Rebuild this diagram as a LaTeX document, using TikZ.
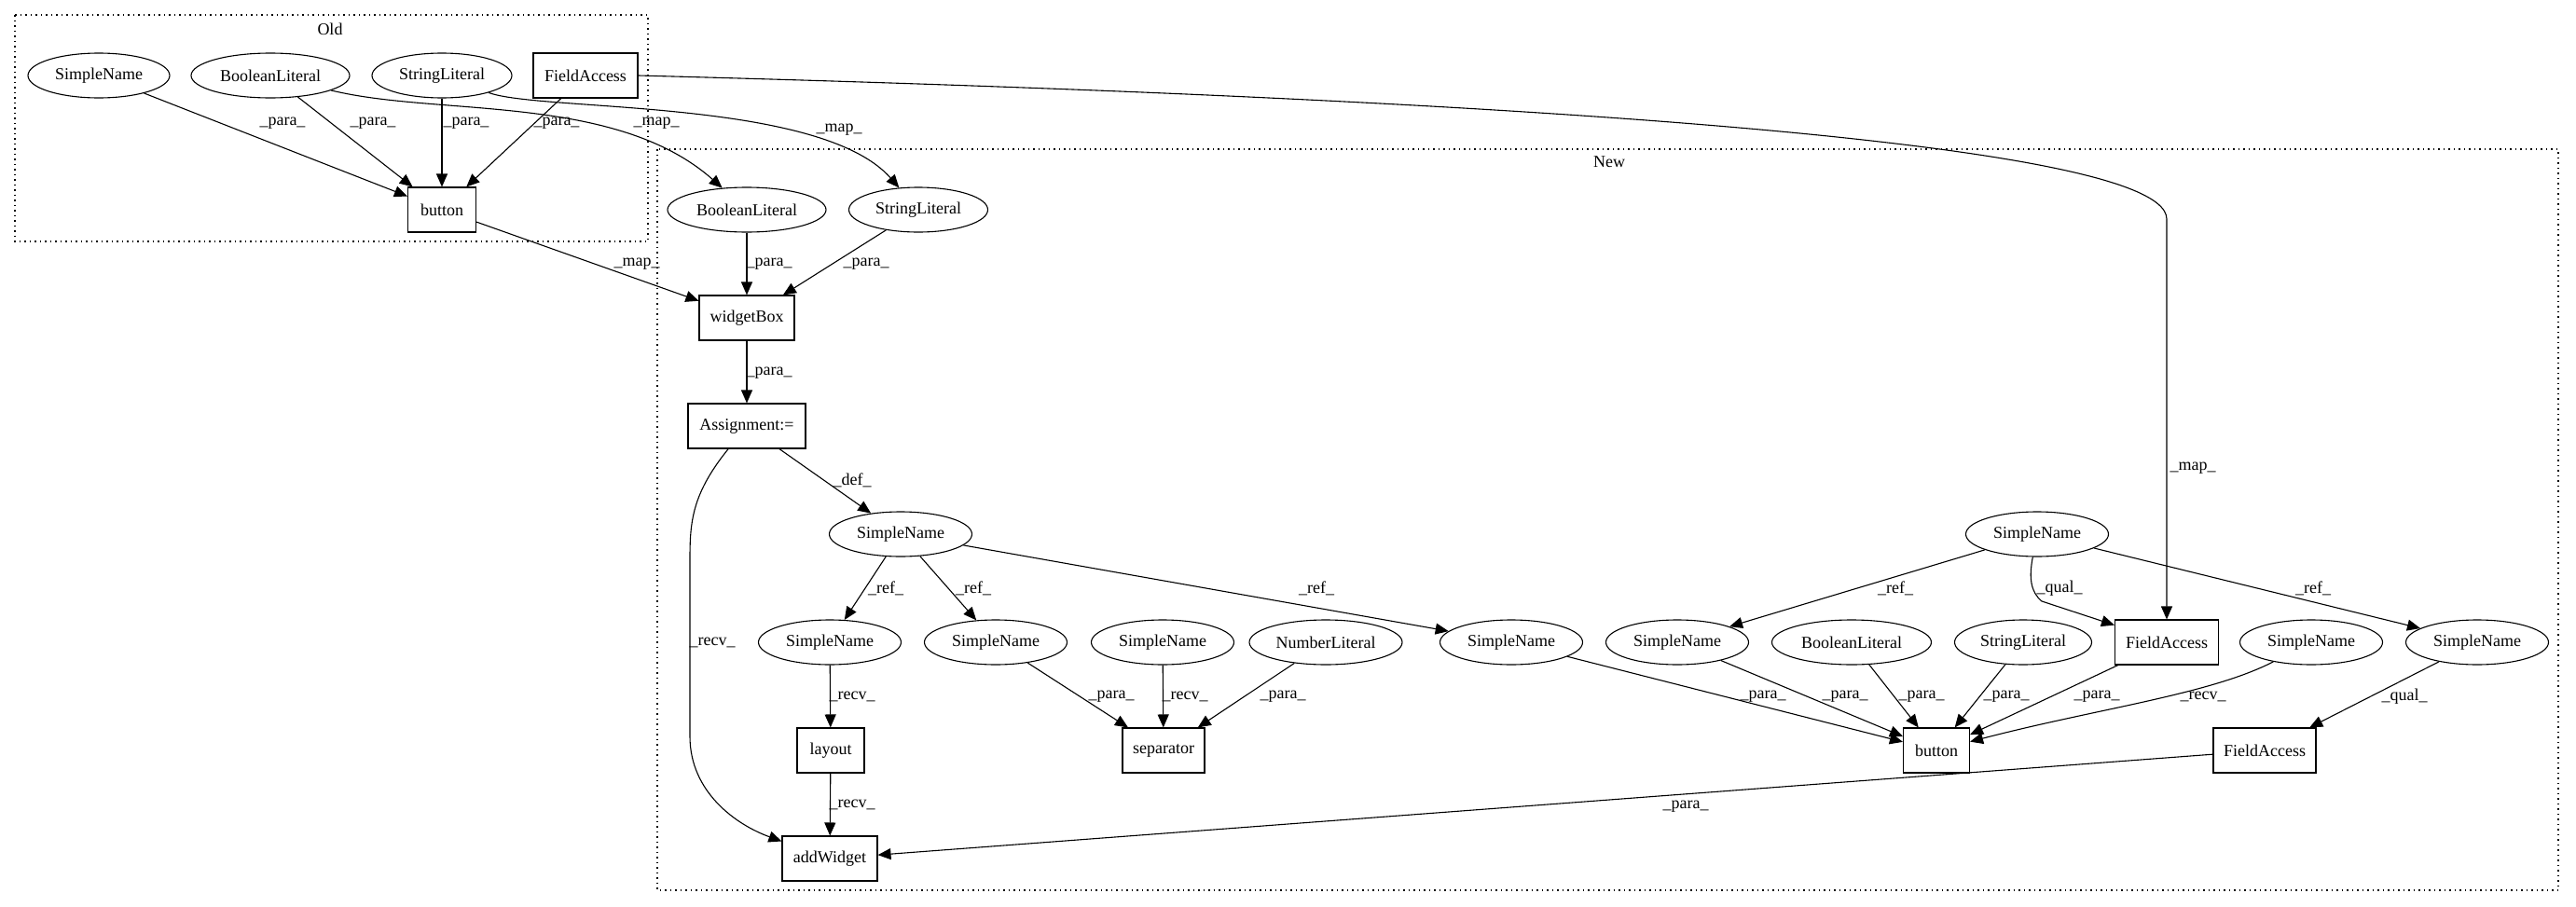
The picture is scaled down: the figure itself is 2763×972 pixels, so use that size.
\documentclass[tikz,border=0pt]{standalone}
\usepackage{fontspec}
\setmainfont{Liberation Serif}
\usetikzlibrary{shapes.geometric,arrows.meta}
\tikzset{
  base/.style={draw, line width=1.1pt, inner sep=0pt, font=\fontsize{18}{20}\selectfont},
  ell/.style={base, ellipse, minimum height=48pt, minimum width=#1},
  ell/.default=153pt,
  box/.style={base, rectangle, minimum height=48pt, minimum width=#1},
  edge/.style={line width=1.1pt, -{Triangle[length=14pt,width=12pt]}},
  lbl/.style={font=\fontsize{18}{20}\selectfont, inner sep=1pt},
  cluster/.style={line width=1.5pt, dash pattern=on 1.5pt off 4pt},
}
\begin{document}
\begin{tikzpicture}[x=1pt,y=-1pt]
\useasboundingbox (0,0) rectangle (2763,972);
% clusters
\draw[cluster] (16,16) rectangle (695,259);
\node[lbl] (oldlbl) at (354,31) {Old};
\draw[cluster] (705,160) rectangle (2744,955);
\node[lbl] (newlbl) at (1726,174) {New};
% Old nodes
\node[ell=152pt] (oSN) at (106,81) {SimpleName};
\node[ell=170pt] (oBL) at (290,81) {BooleanLiteral};
\node[ell=150pt] (oSL) at (474,81) {StringLiteral};
\node[box=112pt] (oFA) at (628,81) {FieldAccess};
\node[box=73pt] (oBtn) at (474,225) {button};
% New nodes
\node[ell=170pt] (nBL) at (801,225) {BooleanLiteral};
\node[ell=149pt] (nSL) at (985,225) {StringLiteral};
\node[box=102pt] (wBox) at (801,341) {widgetBox};
\node[box=126pt] (asg) at (801,457) {Assignment:=};
\node[ell] (sn0) at (966,573) {SimpleName};
\node[ell] (sn1) at (890,689) {SimpleName};
\node[ell] (sn2) at (1068,689) {SimpleName};
\node[ell] (sn3) at (1247,689) {SimpleName};
\node[ell=164pt] (numL) at (1422,689) {NumberLiteral};
\node[box=72pt] (layout) at (891,805) {layout};
\node[box=88pt] (sep) at (1248,805) {separator};
\node[box=102pt] (addW) at (890,921) {addWidget};
\node[ell] (snR) at (2185,573) {SimpleName};
\node[ell] (sn4) at (1621,689) {SimpleName};
\node[ell] (sn5) at (1799,689) {SimpleName};
\node[ell=171pt] (nBL2) at (1986,689) {BooleanLiteral};
\node[ell=147pt] (nSL2) at (2170,689) {StringLiteral};
\node[box=111pt] (nFA) at (2324,689) {FieldAccess};
\node[ell] (sn6) at (2479,689) {SimpleName};
\node[ell] (sn7) at (2657,689) {SimpleName};
\node[box=71pt] (nBtn) at (2077,805) {button};
\node[box=110pt] (nFA2) at (2429,805) {FieldAccess};
\coordinate (mapbend) at (2324,235);
\coordinate (qualbend) at (2190,645);
% Old edges
\draw[edge] (oSN) -- (oBtn);
\draw[edge] (oBL) -- (oBtn);
\draw[edge] (oSL) -- (oBtn);
\draw[edge] (oFA) -- (oBtn);
\node[lbl] (l1) at (303,132) {\_para\_};
\node[lbl] (l2) at (400,132) {\_para\_};
\node[lbl] (l3) at (500,132) {\_para\_};
\node[lbl] (l4) at (597,132) {\_para\_};
% map edges
\draw[edge] (oBL) .. controls (470,125) and (660,100) .. (nBL);
\node[lbl] (l5) at (704,132) {\_map\_};
\draw[edge] (oSL) .. controls (580,120) and (880,105) .. (nSL);
\node[lbl] (l6) at (900,139) {\_map\_};
\draw[edge] (oBtn) -- (wBox);
\node[lbl] (l7) at (683,283) {\_map\_};
\draw[edge] (oFA.east) .. controls (1400,100) and (2324,140) .. (mapbend) -- (nFA);
\node[lbl] (l8) at (2352,502) {\_map\_};
% New edges
\draw[edge] (nBL) -- (wBox);
\node[lbl] (l9) at (825,283) {\_para\_};
\draw[edge] (nSL) -- (wBox);
\node[lbl] (l10) at (929,283) {\_para\_};
\draw[edge] (wBox) -- (asg);
\node[lbl] (l11) at (825,400) {\_para\_};
\draw[edge] (asg) .. controls (742,530) and (740,560) .. (740,600) -- (740,790) .. controls (740,850) and (790,885) .. (addW);
\node[lbl] (l12) at (764,689) {\_recv\_};
\draw[edge] (asg) -- (sn0);
\node[lbl] (l13) at (914,515) {\_def\_};
\draw[edge] (sn0) -- (sn1);
\node[lbl] (l14) at (950,631) {\_ref\_};
\draw[edge] (sn0) -- (sn2);
\node[lbl] (l15) at (1044,631) {\_ref\_};
\draw[edge] (sn0) -- (sn4);
\node[lbl] (l16) at (1412,631) {\_ref\_};
\draw[edge] (sn1) -- (layout);
\node[lbl] (l17) at (914,747) {\_recv\_};
\draw[edge] (layout) -- (addW);
\node[lbl] (l18) at (914,863) {\_recv\_};
\draw[edge] (sn2) -- (sep);
\node[lbl] (l19) at (1192,747) {\_para\_};
\draw[edge] (sn3) -- (sep);
\node[lbl] (l20) at (1271,747) {\_recv\_};
\draw[edge] (numL) -- (sep);
\node[lbl] (l21) at (1376,747) {\_para\_};
\draw[edge] (snR) -- (sn5);
\node[lbl] (l22) at (2033,631) {\_ref\_};
\draw[edge] (snR) .. controls (2176,620) and (2178,635) .. (qualbend) -- (nFA);
\node[lbl] (l23) at (2209,631) {\_qual\_};
\draw[edge] (snR) -- (sn7);
\node[lbl] (l24) at (2481,631) {\_ref\_};
\draw[edge] (sn4) -- (nBtn);
\node[lbl] (l25) at (1891,747) {\_para\_};
\draw[edge] (sn5) -- (nBtn);
\node[lbl] (l26) at (1979,747) {\_para\_};
\draw[edge] (nBL2) -- (nBtn);
\node[lbl] (l27) at (2061,747) {\_para\_};
\draw[edge] (nSL2) -- (nBtn);
\node[lbl] (l28) at (2152,747) {\_para\_};
\draw[edge] (nFA) -- (nBtn);
\node[lbl] (l29) at (2249,747) {\_para\_};
\draw[edge] (sn6) .. controls (2370,745) and (2250,760) .. (nBtn);
\node[lbl] (l30) at (2363,747) {\_recv\_};
\draw[edge] (sn7) -- (nFA2);
\node[lbl] (l31) at (2579,747) {\_qual\_};
\draw[edge] (nFA2) -- (addW);
\node[lbl] (l32) at (1808,865) {\_para\_};
\end{tikzpicture}
\end{document}
